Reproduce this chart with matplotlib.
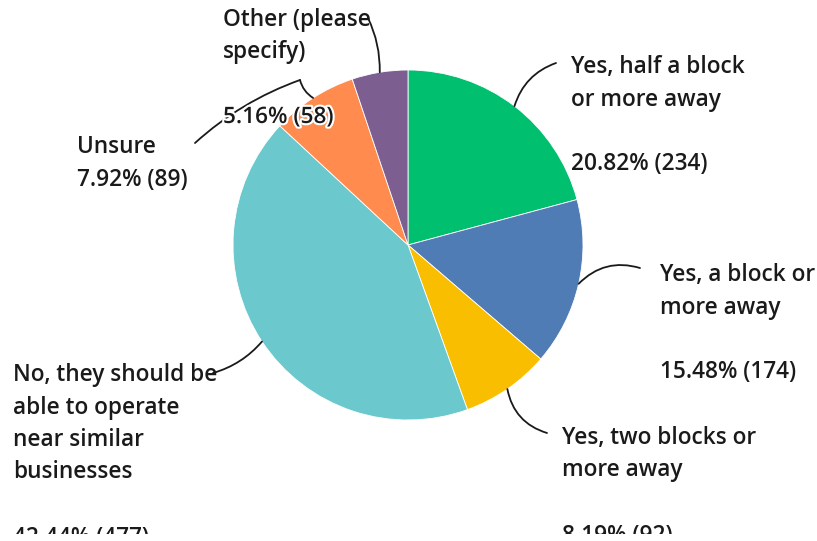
import numpy as np
import matplotlib
matplotlib.use("Agg")
import matplotlib.pyplot as plt
import matplotlib.patheffects as pe
from matplotlib.patches import Rectangle

# data (clockwise from 12 o'clock)
answers = ["Yes, half a block\nor more away",
           "Yes, a block or\nmore away",
           "Yes, two blocks or\nmore away",
           "No, they should be\nable to operate\nnear similar\nbusinesses",
           "Unsure",
           "Other (please\nspecify)"]
percents = [20.82, 15.48, 8.19, 42.44, 7.92, 5.16]
counts = [234, 174, 92, 477, 89, 58]
colors = ["#00BF6F", "#507CB6", "#F9BE00", "#6BC8CD", "#FF8B4F", "#7D5E90"]

W, H = 817, 541
fig = plt.figure(figsize=(W / 100, H / 100), dpi=100)
plt.rcParams['font.family'] = ['Open Sans', 'DejaVu Sans']

cx, cy, r = 408, 245, 175
ax = fig.add_axes([(cx - r) / W, (H - cy - r) / H, 2 * r / W, 2 * r / H])
wedges, _ = ax.pie(percents, colors=colors, startangle=90, counterclock=False,
                   radius=1, wedgeprops=dict(edgecolor="white", linewidth=0.6))
ax.set_xlim(-1, 1)
ax.set_ylim(-1, 1)
ax.set_aspect("equal")
ax.axis("off")

# label layout: x, y of first line, blank line before value?, connector end, curvature
layout = [
    (571, 67, True, (556, 63), 0.25),
    (660, 275, True, (640, 268), 0.3),
    (562, 438, True, (547, 433), -0.3),
    (13, 375, True, (213, 373), 0.15),
    (77, 147, False, (195, 143), 0.0),
    (223, 20, False, (368, 18), -0.12),
]
lh = 32.5

def put(x, y, s, **kw):
    fig.text(x / W, 1 - y / H, s, ha="left", va="center", fontsize=16.3,
             fontweight="semibold", color="#1a1a1a", **kw)

for i, (x, y, gap, end, rad) in enumerate(layout):
    lines = answers[i].split("\n")
    for j, ln in enumerate(lines):
        put(x, y + j * lh, ln)
    val = "%.2f%% (%d)" % (percents[i], counts[i])
    if i == 5:
        put(223, 117, val, path_effects=[pe.withStroke(linewidth=3, foreground="white")])
    else:
        put(x, y + (len(lines) + (1 if gap else 0)) * lh, val)
    w = wedges[i]
    mid = np.deg2rad((w.theta1 + w.theta2) / 2)
    p = (np.cos(mid), np.sin(mid))
    if i == 4:
        ax.annotate("", xy=p, xycoords="data", xytext=(300, H - 80), textcoords="figure pixels",
                    arrowprops=dict(arrowstyle="-", color="#1a1a1a", lw=1.3,
                                    connectionstyle="arc3,rad=0.2", shrinkA=0, shrinkB=0))
        ax.annotate("", xy=(300, H - 80), xycoords="figure pixels", xytext=(end[0], H - end[1]),
                    textcoords="figure pixels",
                    arrowprops=dict(arrowstyle="-", color="#1a1a1a", lw=1.3,
                                    connectionstyle="arc3,rad=-0.1", shrinkA=0, shrinkB=0))
    else:
        ax.annotate("", xy=p, xycoords="data", xytext=(end[0], H - end[1]),
                    textcoords="figure pixels",
                    arrowprops=dict(arrowstyle="-", color="#1a1a1a", lw=1.3,
                                    connectionstyle="arc3,rad=%s" % rad, shrinkA=0, shrinkB=0))

# the original panel is cut off a few pixels above the bottom edge
fig.patches.append(Rectangle((0, 0), 1, 7 / H, transform=fig.transFigure,
                             facecolor="white", edgecolor="none", zorder=10))

fig.savefig("out.png", dpi=100)
